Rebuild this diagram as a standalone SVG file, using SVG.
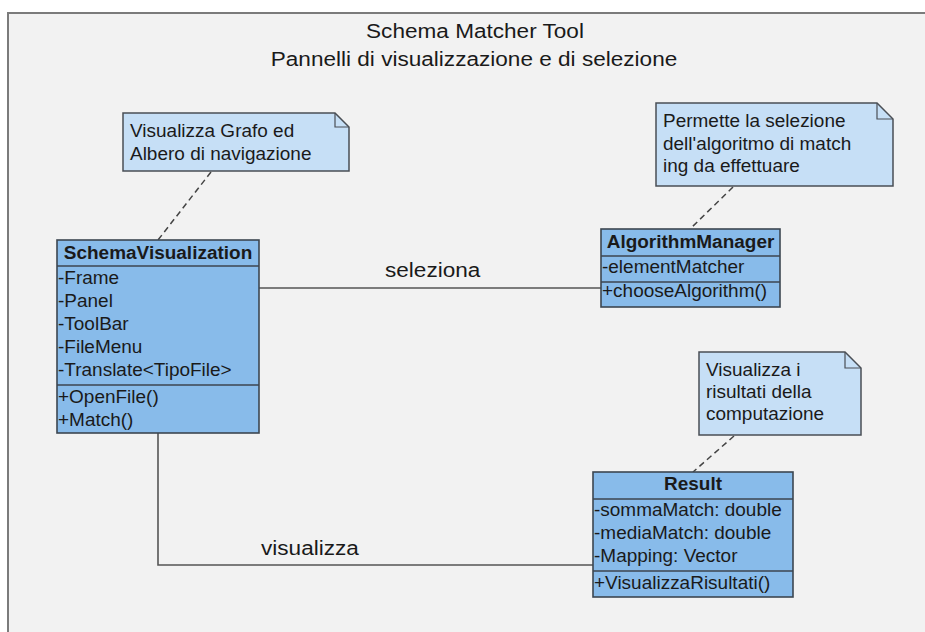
<svg xmlns="http://www.w3.org/2000/svg" width="925" height="632" viewBox="0 0 925 632">
  <style>
    .frame { fill: #f2f2f2; stroke: #7b7b7b; stroke-width: 2; }
    .cls { fill: #88bbea; stroke: #3c4650; stroke-width: 1.6; }
    .sep { stroke: #3c4650; stroke-width: 1.6; }
    .note { fill: #c6dff6; stroke: #4a4f55; stroke-width: 1.5; }
    .fold { fill: none; stroke: #4a4f55; stroke-width: 1.2; }
    .link { fill: none; stroke: #555; stroke-width: 1.6; }
    .anchor { fill: none; stroke: #444; stroke-width: 1.5; stroke-dasharray: 6 4; }
    text { font-family: "Liberation Sans", Arial, sans-serif; fill: #1a1a1a; }
    .s { font-size: 17.5px; }
    .b { font-size: 17.5px; font-weight: bold; text-anchor: middle; }
    .l { font-size: 21px; }
    .h { font-size: 21px; text-anchor: middle; }
  </style>

  <!-- package frame -->
  <rect class="frame" x="8" y="13" width="940" height="640"/>
  <g id="title">
    <text class="h" transform="translate(475,38) scale(1.075,1)">Schema Matcher Tool</text>
    <text class="h" transform="translate(474,66) scale(1.075,1)">Pannelli di visualizzazione e di selezione</text>
  </g>

  <!-- associations and note anchors -->
  <g id="connectors">
    <path class="link" d="M259,288 H601"/>
    <path class="link" d="M158,433 V565 H593"/>
    <path class="anchor" d="M211,172 L158,240"/>
    <path class="anchor" d="M733,187 L690,229"/>
    <path class="anchor" d="M734,436 L693,472"/>
    <text class="l" transform="translate(385,277) scale(1.075,1)">seleziona</text>
    <text class="l" transform="translate(261,555) scale(1.075,1)">visualizza</text>
  </g>

  <!-- notes -->
  <g id="note-visualization">
    <path class="note" d="M123,113 H335 L349,127 V171 H123 Z"/>
    <path class="fold" d="M335,113 V127 H349"/>
    <text class="s" transform="translate(130,137) scale(1.085,1)">Visualizza Grafo ed</text>
    <text class="s" transform="translate(130,160) scale(1.085,1)">Albero di navigazione</text>
  </g>

  <g id="note-algorithm">
    <path class="note" d="M656,103 H877 L893,119 V186 H656 Z"/>
    <path class="fold" d="M877,103 V119 H893"/>
    <text class="s" transform="translate(663,127) scale(1.085,1)">Permette la selezione</text>
    <text class="s" transform="translate(663,150) scale(1.085,1)">dell'algoritmo di match</text>
    <text class="s" transform="translate(663,172) scale(1.085,1)">ing da effettuare</text>
  </g>

  <g id="note-result">
    <path class="note" d="M699,352 H845 L861,368 V435 H699 Z"/>
    <path class="fold" d="M845,352 V368 H861"/>
    <text class="s" transform="translate(706,376) scale(1.085,1)">Visualizza i</text>
    <text class="s" transform="translate(706,398) scale(1.085,1)">risultati della</text>
    <text class="s" transform="translate(706,420) scale(1.085,1)">computazione</text>
  </g>

  <!-- classes -->
  <g id="SchemaVisualization">
    <rect class="cls" x="57" y="240" width="202" height="193"/>
    <path class="sep" d="M57,266 H259 M57,385 H259"/>
    <text class="b" transform="translate(158,259) scale(1.085,1)">SchemaVisualization</text>
    <text class="s" transform="translate(58,284) scale(1.085,1)">-Frame</text>
    <text class="s" transform="translate(58,307) scale(1.085,1)">-Panel</text>
    <text class="s" transform="translate(58,330) scale(1.085,1)">-ToolBar</text>
    <text class="s" transform="translate(58,353) scale(1.085,1)">-FileMenu</text>
    <text class="s" transform="translate(58,376) scale(1.085,1)">-Translate&lt;TipoFile&gt;</text>
    <text class="s" transform="translate(58,403) scale(1.085,1)">+OpenFile()</text>
    <text class="s" transform="translate(58,426) scale(1.085,1)">+Match()</text>
  </g>

  <g id="AlgorithmManager">
    <rect class="cls" x="601" y="229" width="179" height="78"/>
    <path class="sep" d="M601,256 H780 M601,282 H780"/>
    <text class="b" transform="translate(690.5,248) scale(1.085,1)">AlgorithmManager</text>
    <text class="s" transform="translate(602,273) scale(1.085,1)">-elementMatcher</text>
    <text class="s" transform="translate(602,297) scale(1.085,1)">+chooseAlgorithm()</text>
  </g>

  <g id="Result">
    <rect class="cls" x="593" y="472" width="200" height="125"/>
    <path class="sep" d="M593,499 H793 M593,571 H793"/>
    <text class="b" transform="translate(693,490) scale(1.085,1)">Result</text>
    <text class="s" transform="translate(594,516) scale(1.085,1)">-sommaMatch: double</text>
    <text class="s" transform="translate(594,539) scale(1.085,1)">-mediaMatch: double</text>
    <text class="s" transform="translate(594,562) scale(1.085,1)">-Mapping: Vector</text>
    <text class="s" transform="translate(594,589) scale(1.085,1)">+VisualizzaRisultati()</text>
  </g>
</svg>
